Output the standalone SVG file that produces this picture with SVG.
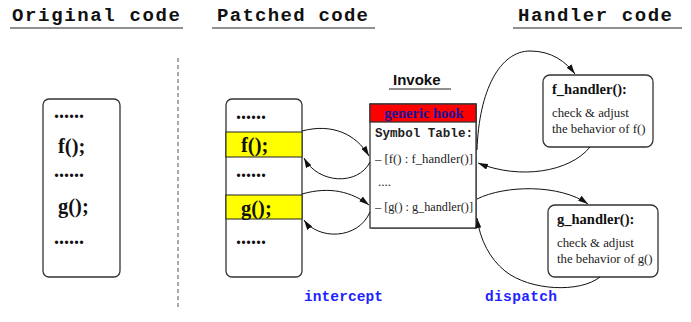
<svg xmlns="http://www.w3.org/2000/svg" width="691" height="322" viewBox="0 0 691 322">
  <style>
    .title { font-family: "Liberation Mono", "DejaVu Sans Mono", monospace; font-weight: bold; font-size: 19px; fill: #111; }
    .rule { stroke: #222; stroke-width: 1.2; }
    .box { fill: #fff; stroke: #333; stroke-width: 1.3; }
    .band { fill: #ffff00; stroke: #222; stroke-width: 1; }
    .dots { font-family: "Liberation Serif", serif; font-weight: bold; font-size: 20px; fill: #111; }
    .call { font-family: "Liberation Serif", serif; font-weight: bold; font-size: 20.5px; fill: #111; }
    .mono { font-family: "Liberation Mono", monospace; font-weight: bold; font-size: 12.5px; fill: #222; }
    .entry { font-family: "Liberation Serif", serif; font-size: 13px; fill: #222; }
    .hname { font-family: "Liberation Serif", serif; font-weight: bold; font-size: 14.5px; fill: #111; }
    .hdesc { font-family: "Liberation Serif", serif; font-size: 12.8px; fill: #222; }
    .label { font-family: "Liberation Mono", monospace; font-weight: bold; font-size: 14.5px; fill: #1f1fff; }
    .edge { fill: none; stroke: #111; stroke-width: 1; marker-end: url(#arrow); }
  </style>
  <defs>
    <marker id="arrow" viewBox="0 0 10 6" refX="10" refY="3" markerWidth="10" markerHeight="6" markerUnits="userSpaceOnUse" orient="auto">
      <path d="M0,0 L10,3 L0,6 Z" fill="#111"/>
    </marker>
  </defs>
  <rect width="691" height="322" fill="#fff"/>

  <!-- column titles -->
  <g id="titles">
    <text class="title" x="12" y="21" textLength="168" lengthAdjust="spacing">Original code</text>
    <line class="rule" x1="10" y1="28" x2="183" y2="28"/>
    <text class="title" x="217" y="21" textLength="151" lengthAdjust="spacing">Patched code</text>
    <line class="rule" x1="212" y1="28" x2="375" y2="28"/>
    <text class="title" x="518" y="21" textLength="154" lengthAdjust="spacing">Handler code</text>
    <line class="rule" x1="513" y1="28" x2="682" y2="28"/>
  </g>

  <!-- separator -->
  <line x1="178" y1="58" x2="178" y2="308" stroke="#555" stroke-width="1" stroke-dasharray="4,3"/>

  <g id="original">
    <rect class="box" x="43" y="99" width="77" height="178" rx="6"/>
    <text class="dots" x="54" y="118">......</text>
    <text class="call" x="58" y="153">f();</text>
    <text class="dots" x="54" y="177">......</text>
    <text class="call" x="58" y="213">g();</text>
    <text class="dots" x="54" y="244">......</text>
  </g>

  <g id="patched">
    <rect class="box" x="226" y="99" width="76" height="178" rx="6"/>
    <rect class="band" x="226" y="132" width="76" height="25"/>
    <rect class="band" x="226" y="195" width="76" height="24"/>
    <text class="dots" x="236" y="119">......</text>
    <text class="call" x="241" y="152">f();</text>
    <text class="dots" x="236" y="177">......</text>
    <text class="call" x="241" y="215">g();</text>
    <text class="dots" x="236" y="244">......</text>
  </g>

  <g id="hook">
    <text x="393" y="85" font-family="Liberation Sans, Arial, sans-serif" font-weight="bold" font-size="15" fill="#111">Invoke</text>
    <line class="rule" x1="389" y1="89" x2="451" y2="89"/>
    <rect x="371" y="105" width="106" height="124" fill="#888"/>
    <rect x="370" y="104" width="106" height="124" fill="#fff" stroke="#333" stroke-width="1.3"/>
    <rect x="370" y="104" width="106" height="18" fill="#ff0000" stroke="#333" stroke-width="1.3"/>
    <text x="424" y="118" text-anchor="middle" font-family="Liberation Serif, serif" font-weight="bold" font-size="14.5" fill="#1a139a">generic hook</text>
    <text class="mono" x="375" y="137" textLength="98" lengthAdjust="spacingAndGlyphs">Symbol Table:</text>
    <text class="entry" x="375" y="163" textLength="98" lengthAdjust="spacingAndGlyphs">– [f() : f_handler()]</text>
    <text class="entry" x="378" y="186">....</text>
    <text class="entry" x="375" y="211" textLength="98" lengthAdjust="spacingAndGlyphs">– [g() : g_handler()]</text>
  </g>

  <g id="f_handler">
    <rect class="box" x="543" y="75" width="110" height="72" rx="7"/>
    <text class="hname" x="552" y="94">f_handler():</text>
    <text class="hdesc" x="552" y="117">check &amp; adjust</text>
    <text class="hdesc" x="552" y="133">the behavior of f()</text>
  </g>

  <g id="g_handler">
    <rect class="box" x="548" y="205" width="110" height="72" rx="7"/>
    <text class="hname" x="557" y="224">g_handler():</text>
    <text class="hdesc" x="557" y="247">check &amp; adjust</text>
    <text class="hdesc" x="557" y="263">the behavior of g()</text>
  </g>

  <g id="labels">
    <text class="label" x="304" y="301" textLength="79" lengthAdjust="spacing">intercept</text>
    <text class="label" x="485" y="301" textLength="72" lengthAdjust="spacing">dispatch</text>
  </g>

  <g id="connectors">
    <!-- intercept: patched calls to hook and back -->
    <path class="edge" d="M302,131 C332,123 356,134 369,156"/>
    <path class="edge" d="M370,162 C358,186 318,184 304,158"/>
    <path class="edge" d="M302,194 C330,186 352,192 369,205"/>
    <path class="edge" d="M370,212 C358,240 318,240 304,220"/>
    <!-- dispatch: hook to handlers and back -->
    <path class="edge" d="M477,150 C479,90 500,51 530,51 C552,51 566,62 575,74"/>
    <path class="edge" d="M590,147 C570,172 520,180 478,163"/>
    <path class="edge" d="M477,199 C505,185 560,184 588,204"/>
    <path class="edge" d="M600,277 C580,293 530,291 505,271 C490,259 480,240 477,218"/>
  </g>
</svg>
